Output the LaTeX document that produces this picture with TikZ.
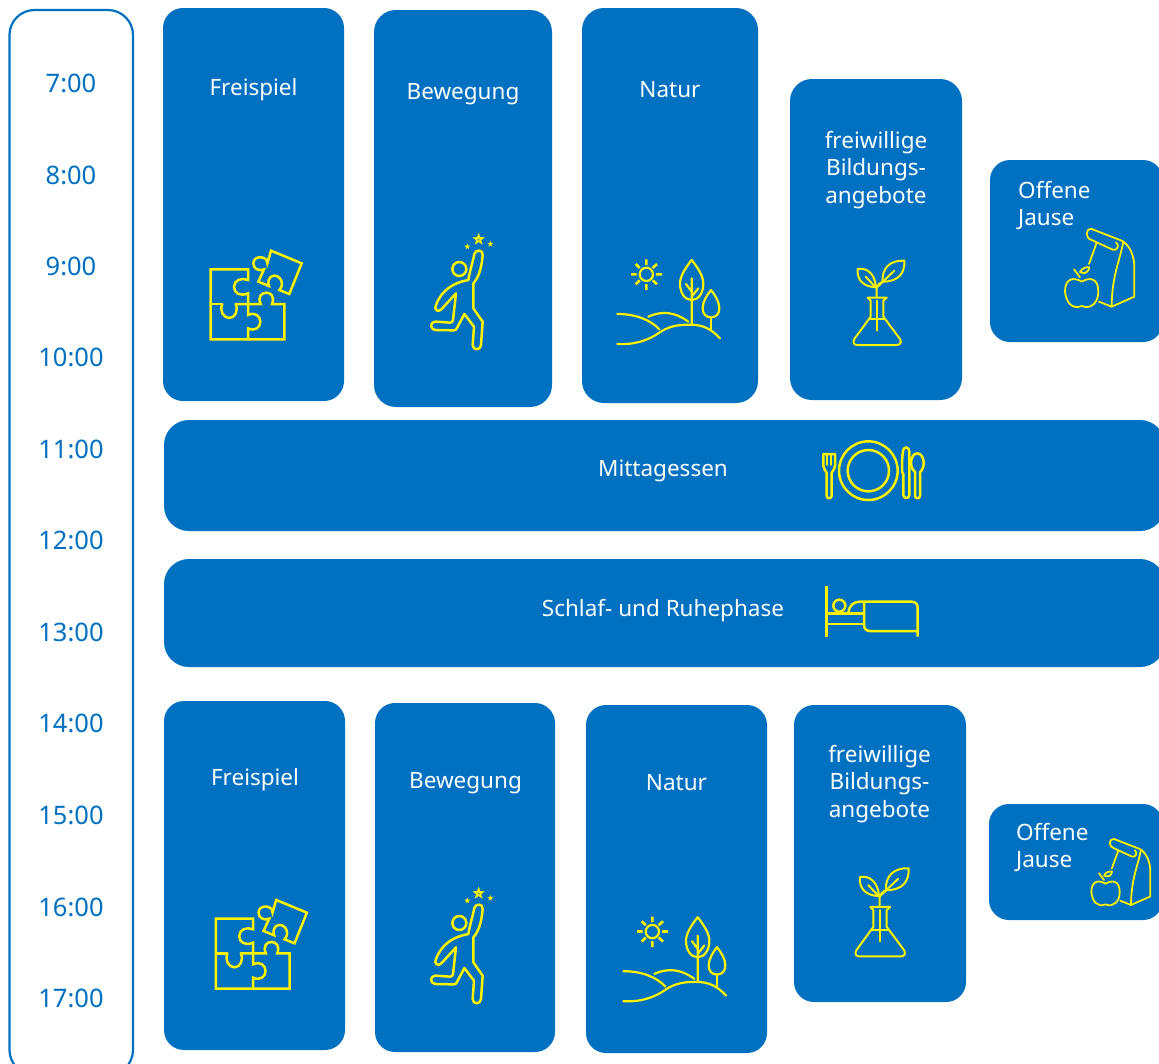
\documentclass[tikz,border=0pt]{standalone}
\usepackage{fontspec}
\setmainfont{Noto Sans}
\definecolor{boxblue}{HTML}{0070C0}
\definecolor{iconyel}{HTML}{FFF200}
\tikzset{
  box/.style={fill=boxblue,draw=none},
  timebar/.style={draw=boxblue,line width=2.2pt},
  hour/.style={text=boxblue,font=\fontsize{25.5}{28}\selectfont,anchor=center,inner sep=0pt},
  lab/.style={text=white,font=\fontsize{22.5}{27.5}\selectfont,align=center,anchor=center,inner sep=0pt},
  labl/.style={text=white,font=\fontsize{22.5}{27}\selectfont,align=left,anchor=west,inner sep=0pt},
  icon/.style={draw=iconyel,line width=2.5pt,line cap=round,line join=round},
  iconthin/.style={draw=iconyel,line width=1.8pt,line cap=round,line join=round},
}
\newcommand\puzzleicon[3]{\begin{scope}[shift={(#1,#2)},scale=#3/3,icon,line join=miter]
  \draw (174,222) -- (174,190) .. controls (150,200) and (132,190) .. (132,170) .. controls (132,150) and (155,142) .. (174,150) -- (174,118) -- (62,118) -- (62,328) -- (283,328) -- (283,222) -- (246,222) .. controls (255,200) and (243,188) .. (229,188) .. controls (215,188) and (202,200) .. (212,222) -- (137,222);
  \draw (95,222) -- (62,222);
  \draw (97,222) .. controls (88,242) and (100,264) .. (118,264) .. controls (135,264) and (146,242) .. (137,222);
  \draw (174,222) -- (174,255) .. controls (195,245) and (211,258) .. (211,275) .. controls (211,292) and (195,305) .. (174,295) -- (174,328);
  \draw (243,62) -- (335,100) -- (298,192) -- (268,180) .. controls (278,170) and (278,155) .. (270,145) .. controls (260,132) and (240,135) .. (236,150) .. controls (234,158) and (235,163) .. (237,168) -- (205,155) -- (222,118) .. controls (205,125) and (190,115) .. (190,100) .. controls (190,85) and (205,80) .. (215,82) .. controls (228,85) and (234,92) .. (232,100) -- cycle;
\end{scope}}
\newcommand\istar[3]{\fill[iconyel,shift={(#1,#2)},scale=#3] (0,-1)--(.24,-.32)--(.95,-.31)--(.38,.12)--(.59,.81)--(0,.4)--(-.59,.81)--(-.38,.12)--(-.95,-.31)--(-.24,-.32)--cycle;}
\newcommand\figureicon[3]{\begin{scope}[shift={(#1,#2)},scale=#3/3,icon]
  \draw (808,117) circle[radius=21];
  \draw (850,160) -- (850,235) -- (878,275) -- (873,345) .. controls (872,362) and (848,362) .. (848,345) -- (852,290) -- (823,252) -- (802,292) .. controls (800,300) and (795,301) .. (790,301) -- (738,300) .. controls (718,298) and (718,276) .. (738,275) -- (780,278) .. controls (786,278) and (788,275) .. (789,270) -- (798,190) -- (755,237) .. controls (745,250) and (730,238) .. (738,225) .. controls (755,180) and (790,158) .. (835,150) .. controls (840,120) and (850,90) .. (853,72) .. controls (856,58) and (880,58) .. (878,75) .. controls (875,110) and (868,140) .. (850,160);
  \istar{866}{28}{20}
  \istar{832}{50}{9.5}
  \istar{901}{42}{9.5}
  \fill[boxblue!50!iconyel] (866,29) circle[radius=4];
\end{scope}}
\newcommand\natureicon[3]{\begin{scope}[shift={(#1,#2)},scale=#3/3,icon,line width=2.2pt]
  \draw (139,103) circle[radius=20];
  \draw[line width=2.6pt,line cap=butt] (139,58)--(139,75) (139,132)--(139,150) (93,103)--(110,103) (168,103)--(186,103) (107,72)--(119,84) (171,72)--(158,84) (107,133)--(119,121) (171,133)--(158,121);
  \draw (275,60) .. controls (295,85) and (310,110) .. (310,130) .. controls (310,160) and (295,180) .. (275,180) .. controls (255,180) and (240,160) .. (240,130) .. controls (240,110) and (255,85) .. (275,60) -- cycle;
  \draw (275,115)--(275,253) (258,132)--(275,155) (295,145)--(275,170);
  \draw (333,150) .. controls (345,165) and (358,185) .. (358,205) .. controls (358,222) and (348,232) .. (333,232) .. controls (318,232) and (308,222) .. (308,205) .. controls (308,185) and (321,165) .. (333,150) -- cycle;
  \draw (333,232)--(333,268);
  \draw (52,222) .. controls (105,222) and (150,238) .. (178,268);
  \draw (145,230) .. controls (185,212) and (225,215) .. (265,245);
  \draw (52,312) .. controls (105,315) and (145,300) .. (175,280) .. controls (205,258) and (235,254) .. (270,254) .. controls (310,254) and (335,268) .. (360,295);
\end{scope}}
\newcommand\flaskicon[3]{\begin{scope}[shift={(#1,#2)},scale=#3/3,icon,line width=2pt]
  \draw (773,87) .. controls (800,82) and (825,100) .. (828,142) .. controls (795,140) and (770,125) .. (773,87) -- cycle;
  \draw (797,110)--(825,140);
  \draw (913,62) .. controls (915,100) and (895,125) .. (848,125) .. controls (845,85) and (870,60) .. (913,62) -- cycle;
  \draw (883,92)--(835,138);
  \draw (830,172)--(830,145) .. controls (831,135) and (838,130) .. (848,125);
  \draw (803,173)--(860,173)--(850,182) -- (850,230) -- (900,297) .. controls (906,308) and (900,315) .. (890,315) -- (772,315) .. controls (762,315) and (757,308) .. (763,297) -- (812,230) -- (812,182) -- cycle;
  \draw (808,238)--(855,238) (832,182)--(832,272);
\end{scope}}
\newcommand\jauseicon[3]{\begin{scope}[shift={(#1,#2)},scale=#3/3,iconthin]
  \draw (305,237) -- (395,272) .. controls (420,285) and (433,320) .. (433,350) -- (433,440) -- (365,470) -- (327,455);
  \draw (305,237) .. controls (285,235) and (285,265) .. (305,270) -- (368,299) .. controls (382,304) and (390,285) .. (378,277);
  \draw (400,275) .. controls (390,330) and (365,380) .. (365,470);
  \draw (320,278)--(297,342);
  \draw (275,395) .. controls (250,380) and (225,385) .. (225,425) .. controls (228,455) and (245,480) .. (275,468) .. controls (305,480) and (325,455) .. (325,425) .. controls (325,385) and (300,380) .. (275,395) -- cycle;
  \draw (270,382)--(252,358);
  \draw (270,366) .. controls (275,355) and (288,350) .. (298,352) .. controls (296,365) and (285,375) .. (270,366) -- cycle;
\end{scope}}
\begin{document}
\begin{tikzpicture}[x=1pt,y=-1pt]
\clip (0,0) rectangle (1159,1063);
\fill[white] (0,0) rectangle (1159,1063);
% time bar
\draw[timebar,rounded corners=25pt] (9.5,10) rectangle (133,1075);
\node[hour] (t7) at (71,83.5) {7:00};
\node[hour] (t8) at (71,175) {8:00};
\node[hour] (t9) at (71,266) {9:00};
\node[hour] (t10) at (71,357.5) {10:00};
\node[hour] (t11) at (71,449) {11:00};
\node[hour] (t12) at (71,540.5) {12:00};
\node[hour] (t13) at (71,632) {13:00};
\node[hour] (t14) at (71,723) {14:00};
\node[hour] (t15) at (71,815) {15:00};
\node[hour] (t16) at (71,907) {16:00};
\node[hour] (t17) at (71,998) {17:00};
% boxes
\fill[box,rounded corners=20pt] (163,8) rectangle (344,401);
\fill[box,rounded corners=22pt] (374,10) rectangle (552,407);
\fill[box,rounded corners=22pt] (582,8) rectangle (758,403);
\fill[box,rounded corners=22pt] (790,79) rectangle (962,400);
\fill[box,rounded corners=20pt] (990,160) rectangle (1163,342);
\fill[box,rounded corners=25pt] (164,420) rectangle (1165,531);
\fill[box,rounded corners=25pt] (164,559) rectangle (1165,667);
\fill[box,rounded corners=20pt] (164,701) rectangle (345,1050);
\fill[box,rounded corners=20pt] (375,703) rectangle (555,1052);
\fill[box,rounded corners=20pt] (586,705) rectangle (767,1053);
\fill[box,rounded corners=20pt] (794,705) rectangle (966,1002);
\fill[box,rounded corners=20pt] (989,804) rectangle (1163,920);
% labels
\node[lab] (l1) at (253.5,90) {Freispiel};
\node[lab] (l2) at (463,94) {Bewegung};
\node[lab] (l3) at (670,90) {Natur};
\node[lab] (l4) at (876,170) {freiwillige\\Bildungs-\\angebote};
\node[labl] (l5) at (1018,206) {Offene\\Jause};
\node[lab] (l6) at (663,471) {Mittagessen};
\node[lab] (l7) at (663,611) {Schlaf- und Ruhephase};
\node[lab] (l8) at (255,780) {Freispiel};
\node[lab] (l9) at (465.5,783) {Bewegung};
\node[lab] (l10) at (676.5,783) {Natur};
\node[lab] (l11) at (879.5,784) {freiwillige\\Bildungs-\\angebote};
\node[labl] (l12) at (1016,848) {Offene\\Jause};
% icons
\puzzleicon{190}{230}{1}
\figureicon{190}{230}{1}
\natureicon{600}{240}{1}
\flaskicon{600}{240}{1}
\jauseicon{990}{150}{1}
\puzzleicon{195.2}{879.3}{1}
\figureicon{190}{884}{1}
\natureicon{606}{897.2}{1}
\flaskicon{590.6}{846.7}{1.045}
\jauseicon{1027.6}{771.8}{.85}
% plate
\begin{scope}[shift={(800,430)},scale=1/3,icon]
  \draw (205,122) circle[radius=88];
  \draw (205,122) circle[radius=62];
  \draw (70,72) -- (105,72) -- (105,108) .. controls (105,118) and (97,122) .. (95,128) -- (95,198) .. controls (95,207) and (80,207) .. (80,198) -- (80,128) .. controls (78,122) and (70,118) .. (70,108) -- cycle;
  \draw[line width=1.5pt] (81,72)--(81,105) (93,72)--(93,105);
  \draw (318,52) .. controls (308,52) and (306,70) .. (306,125) .. controls (310,130) and (312,135) .. (310,145) -- (310,195) .. controls (310,207) and (328,207) .. (328,195) -- (328,65) .. controls (328,58) and (324,52) .. (318,52) -- cycle;
  \draw (352,70) .. controls (340,70) and (333,85) .. (333,98) .. controls (333,112) and (340,122) .. (345,126) -- (345,198) .. controls (345,207) and (360,207) .. (360,198) -- (360,126) .. controls (366,122) and (371,112) .. (371,98) .. controls (371,85) and (364,70) .. (352,70) -- cycle;
\end{scope}
% bed
\begin{scope}[shift={(810,575)},scale=1/3,icon,line cap=butt]
  \draw (50,33)--(50,185) (50,115)--(162,115) (50,147)--(162,147);
  \draw (88,92) circle[radius=18];
  \draw (115,112) .. controls (118,92) and (130,80) .. (150,80) -- (305,80) .. controls (317,80) and (323,88) .. (323,98) -- (323,185);
  \draw (162,80) -- (162,150) .. controls (162,162) and (170,168) .. (180,168) -- (323,168);
\end{scope}
\end{tikzpicture}
\end{document}
